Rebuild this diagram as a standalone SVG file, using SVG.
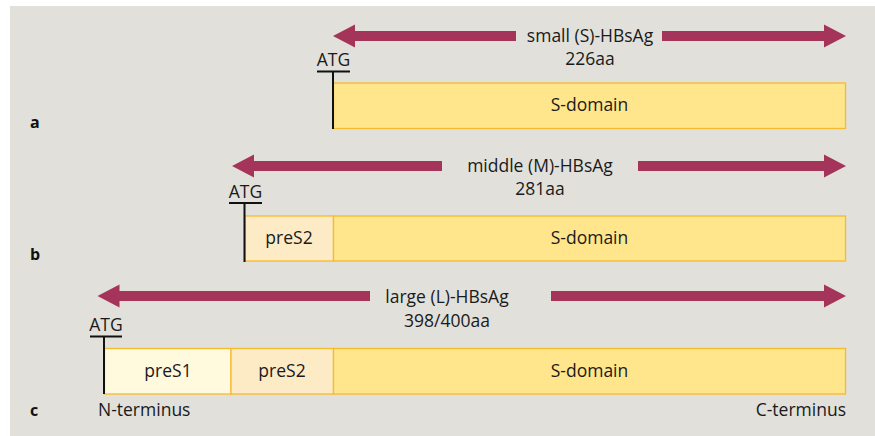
<svg xmlns="http://www.w3.org/2000/svg" width="875" height="436" viewBox="0 0 875 436">
  <defs>
    <style>
      .bg { fill: #E1E0DA; }
      .txt { font-family: "Open Sans", "Liberation Sans", sans-serif; font-size: 17.5px; fill: #1A1A1A; }
      .mid { text-anchor: middle; }
      .tag { font-family: "Open Sans", "Liberation Sans", sans-serif; font-size: 16px; font-weight: bold; fill: #111; }
      .sdom { fill: #FFE58C; stroke: #F6BA2E; stroke-width: 1.3; }
      .pres2 { fill: #FDEBC6; stroke: #F6BA2E; stroke-width: 1.3; }
      .pres1 { fill: #FFF9DE; stroke: #F6BA2E; stroke-width: 1.3; }
      .arrow { fill: #A5345A; }
      .atg { stroke: #111; stroke-width: 2; fill: none; }
    </style>
  </defs>

  <rect class="bg" x="10" y="6" width="865" height="430"/>

  <!-- row a: small (S)-HBsAg -->
  <g id="row-a">
    <text class="tag" x="30" y="128">a</text>
    <g id="a-domains">
      <rect class="sdom" x="333.5" y="83" width="512" height="45.5"/>
      <text class="txt mid" x="589.5" y="111">S-domain</text>
    </g>
    <g id="a-atg">
      <text class="txt mid" x="333.5" y="66">ATG</text>
      <path class="atg" d="M317 71.5 H350 M333 71.5 V129"/>
    </g>
    <text class="txt mid" x="590" y="42">small (S)-HBsAg</text>
    <text class="txt mid" x="590" y="65">226aa</text>
  </g>

  <!-- row b: middle (M)-HBsAg -->
  <g id="row-b">
    <text class="tag" x="30" y="260">b</text>
    <g id="b-domains">
      <rect class="pres2" x="245" y="216" width="88.5" height="45"/>
      <rect class="sdom" x="333.5" y="216" width="512" height="45"/>
      <text class="txt mid" x="289" y="244">preS2</text>
      <text class="txt mid" x="589.5" y="244">S-domain</text>
    </g>
    <g id="b-atg">
      <text class="txt mid" x="245.5" y="198">ATG</text>
      <path class="atg" d="M229 203 H262 M244.5 203 V262"/>
    </g>
    <text class="txt mid" x="540" y="172">middle (M)-HBsAg</text>
    <text class="txt mid" x="540" y="195">281aa</text>
  </g>

  <!-- row c: large (L)-HBsAg -->
  <g id="row-c">
    <text class="tag" x="30" y="416">c</text>
    <g id="c-domains">
      <rect class="pres1" x="104.5" y="348.5" width="126.5" height="45.5"/>
      <rect class="pres2" x="231" y="348.5" width="102.5" height="45.5"/>
      <rect class="sdom" x="333.5" y="348.5" width="512" height="45.5"/>
      <text class="txt mid" x="168" y="377">preS1</text>
      <text class="txt mid" x="282" y="377">preS2</text>
      <text class="txt mid" x="589.5" y="377">S-domain</text>
    </g>
    <g id="c-atg">
      <text class="txt mid" x="106" y="331">ATG</text>
      <path class="atg" d="M90 336.5 H122 M104 336.5 V394"/>
    </g>
    <text class="txt mid" x="447" y="303">large (L)-HBsAg</text>
    <text class="txt mid" x="447" y="327">398/400aa</text>
    <text class="txt" x="98" y="416">N-terminus</text>
    <text class="txt" x="846" y="416" text-anchor="end">C-terminus</text>
  </g>

  <!-- extent arrows -->
  <g id="connectors">
    <polygon class="arrow" points="333,36 355,24.5 355,31 516,31 516,41 355,41 355,47.5"/>
    <polygon class="arrow" points="846,36 824,24.5 824,31 662,31 662,41 824,41 824,47.5"/>
    <polygon class="arrow" points="232,166 254,154.5 254,161 442,161 442,171 254,171 254,177.5"/>
    <polygon class="arrow" points="846,166 824,154.5 824,161 638,161 638,171 824,171 824,177.5"/>
    <polygon class="arrow" points="97.5,296 119.5,284.5 119.5,291 370,291 370,301 119.5,301 119.5,307.5"/>
    <polygon class="arrow" points="846,296 824,284.5 824,291 551,291 551,301 824,301 824,307.5"/>
  </g>
</svg>
